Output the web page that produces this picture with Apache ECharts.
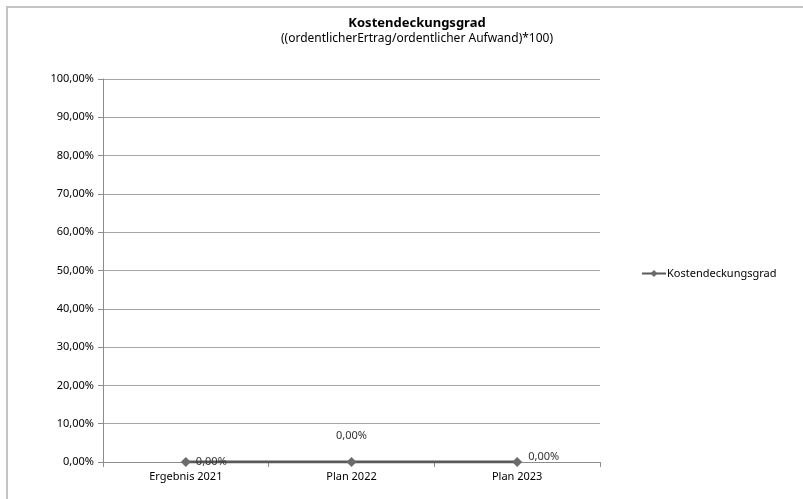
<!DOCTYPE html>
<html><head><meta charset="utf-8">
<script src="https://cdn.jsdelivr.net/npm/echarts@6/dist/echarts.min.js"></script>
<style>html,body{margin:0;padding:0;background:#fff}#c{width:803px;height:499px}</style>
</head><body><div id="c"></div>
<script>
const categories = ['Ergebnis 2021', 'Plan 2022', 'Plan 2023'];
const values = [0, 0, 0];
const labelPositions = ['right', 'top', 'right'];
const seriesName = 'Kostendeckungsgrad';
const titleText = 'Kostendeckungsgrad';
const subtitleText = '((ordentlicherErtrag/ordentlicher Aufwand)*100)';

const font = 'Noto Sans';
const fmt = v => v.toFixed(2).replace('.', ',') + '%';
const chart = echarts.init(document.getElementById('c'));
chart.setOption({
  animation: false,
  textStyle: {fontFamily: font},
  graphic: [{type: 'rect', shape: {x: 7, y: 7, width: 830, height: 530}, style: {fill: 'none', stroke: '#c4c4c4', lineWidth: 2}, z: -1}],
  title: {
    text: titleText, subtext: subtitleText, left: 412, textAlign: 'center', top: 12, itemGap: 3,
    textStyle: {fontFamily: font, fontSize: 13, fontWeight: 'bold', color: '#000'},
    subtextStyle: {fontFamily: font, fontSize: 12, color: '#000'}
  },
  legend: {
    left: 636, top: 263, itemWidth: 24, itemHeight: 9, itemGap: 2,
    textStyle: {fontFamily: font, fontSize: 11, color: '#000', padding: [0,0,0,-4]},
    data: [seriesName]
  },
  grid: {left: 103, right: 203, top: 79, bottom: 37, containLabel: false},
  xAxis: {
    type: 'category', data: categories, boundaryGap: true,
    axisLine: {lineStyle: {color: '#8c8c8c'}},
    axisTick: {show: true, length: 5, lineStyle: {color: '#8c8c8c'}},
    axisLabel: {color: '#000', fontSize: 11, margin: 9, fontFamily: font}
  },
  yAxis: {
    type: 'value', min: 0, max: 100, interval: 10,
    axisLine: {show: true, lineStyle: {color: '#8c8c8c'}},
    axisTick: {show: true, length: 5, lineStyle: {color: '#8c8c8c'}},
    splitLine: {lineStyle: {color: '#a6a6a6'}},
    axisLabel: {color: '#000', fontSize: 11, margin: 9, fontFamily: font, formatter: fmt}
  },
  series: [{
    name: seriesName, type: 'line', data: values.map((v, i) => ({
      value: v,
      label: {position: labelPositions[i], distance: i === 1 ? 16 : (i === 2 ? 6 : 5), offset: i === 2 ? [0, -5] : [0, 0]}
    })),
    symbol: 'diamond', symbolSize: 10,
    lineStyle: {color: '#595959', width: 3},
    itemStyle: {color: '#6b6b6b'},
    label: {show: true, color: '#333333', fontSize: 11, fontFamily: font, formatter: p => fmt(p.value)}
  }]
});
</script></body></html>
